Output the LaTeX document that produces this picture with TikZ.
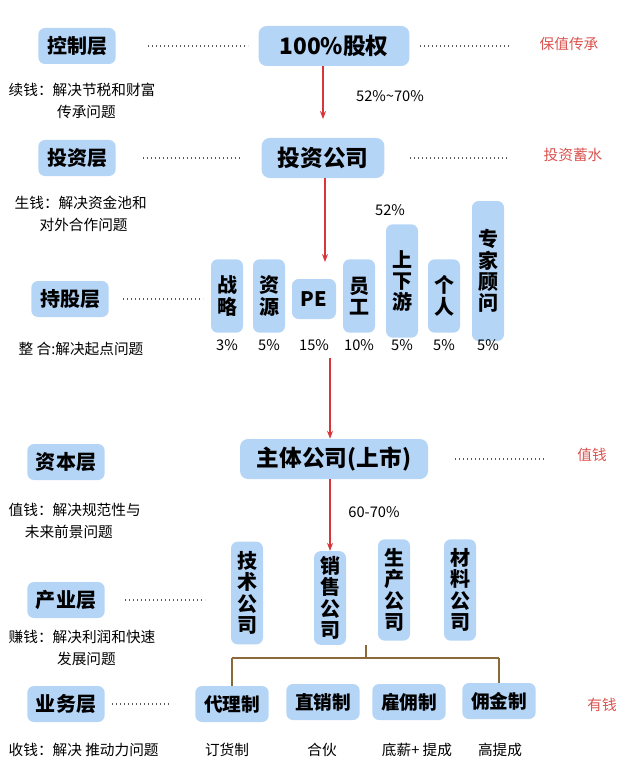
\documentclass[tikz,border=0pt]{standalone}
\usepackage{fontspec}
\setmainfont{Noto Sans CJK SC}
\usetikzlibrary{arrows.meta,positioning}
\definecolor{boxblue}{HTML}{B5D5F7}
\definecolor{redtxt}{HTML}{D9534F}
\definecolor{arrowred}{HTML}{D8363B}
\definecolor{brown}{HTML}{8A6A3A}

\begin{document}
\begin{tikzpicture}[x=0.75pt,y=-0.75pt,
            layer/.style={fill=boxblue,rounded corners=5pt,font=\bfseries\fontsize{15}{16}\selectfont,minimum width=58pt,minimum height=27pt},
            main/.style={fill=boxblue,rounded corners=6pt,font=\bfseries\fontsize{17}{18}\selectfont,minimum height=30pt,inner xsep=10pt},
            vbox/.style={fill=boxblue,rounded corners=5pt,font=\bfseries\fontsize{15}{16}\selectfont,align=center,text width=16pt,inner sep=4pt},
            biz/.style={fill=boxblue,rounded corners=5pt,font=\bfseries\fontsize{14}{15}\selectfont,minimum width=55pt,minimum height=27pt},
            note/.style={font=\fontsize{11}{16.5}\selectfont,align=left,anchor=west},
            pct/.style={font=\fontsize{11}{12}\selectfont},
            goal/.style={font=\fontsize{11}{12}\selectfont,text=redtxt},
            dots/.style={draw,dotted,line width=1pt,gray!70!black},
            down/.style={draw,-{Stealth[length=6pt]},thick,arrowred}
          ]
          \useasboundingbox (0,0) rectangle (636,781);

          % control layer
          \node[layer] (ctrl) at (77,46) {控制层};
          \node[main,minimum width=113pt] (equity) at (334,46) {100\%股权};
          \node[goal] (g1) at (569,44) {保值传承};
          \node[note] (n1) at (4,101) {续钱：解决节税和财富\\\hspace{3.3em}传承问题};

          % invest layer
          \node[layer] (inv) at (77,158) {投资层};
          \node[main,minimum width=92pt] (invco) at (323,158) {投资公司};
          \node[goal] (g2) at (573,155) {投资蓄水};
          \node[note] (n2) at (10,214) {生钱：解决资金池和\\\hspace{1.7em}对外合作问题};

          % holding layer
          \node[layer] (hold) at (70,299) {持股层};
          \node[vbox,minimum height=55pt] (s1) at (227,296) {战\\略};
          \node[vbox,minimum height=55pt] (s2) at (269,296) {资\\源};
          \node[vbox,text width=25pt,minimum height=30pt] (s3) at (314,299) {PE};
          \node[vbox,minimum height=55pt] (s4) at (359,296) {员\\工};
          \node[vbox,minimum height=85pt] (s5) at (402,281) {上\\下\\游};
          \node[vbox,minimum height=55pt] (s6) at (444,296) {个\\人};
          \node[vbox,minimum height=105pt] (s7) at (488,271) {专\\家\\顾\\问};
          \foreach \n/\p in {s1/3\%,s2/5\%,s3/15\%,s4/10\%,s5/5\%,s6/5\%,s7/5\%}
            \node[pct] at (\n |- 0,345) {\p};
          \node[note] (n3) at (14,349) {整 合:解决起点问题};
          \coordinate (hub) at (330,358);

          % capital layer
          \node[layer] (cap) at (66,462) {资本层};
          \node[main,minimum width=141pt] (listed) at (334,459) {主体公司(上市)};
          \node[goal] (g3) at (592,455) {值钱};
          \node[note] (n4) at (4,521) {值钱：解决规范性与\\\hspace{1.1em}未来前景问题};

          % industry layer
          \node[layer] (ind) at (66,600) {产业层};
          \node[vbox,minimum height=77pt] (c1) at (247,593) {技\\术\\公\\司};
          \node[vbox,minimum height=70pt] (c2) at (330,598) {销\\售\\公\\司};
          \node[vbox,minimum height=76pt] (c3) at (394,590) {生\\产\\公\\司};
          \node[vbox,minimum height=76pt] (c4) at (460,590) {材\\料\\公\\司};
          \node[note] (n5) at (4,648) {赚钱：解决利润和快速\\\hspace{3.3em}发展问题};

          % business layer
          \node[layer] (biz) at (66,704) {业务层};
          \node[biz] (b1) at (232,704) {代理制};
          \node[biz] (b2) at (323,702) {直销制};
          \node[biz] (b3) at (409,702) {雇佣制};
          \node[biz] (b4) at (499,701) {佣金制};
          \node[goal] (g4) at (602,705) {有钱};
          \node[note] (n6) at (4,750) {收钱：解决 推动力问题};
          \node[pct] at (227,750) {订货制};
          \node[pct] at (322,750) {合伙};
          \node[pct] at (417,750) {底薪+ 提成};
          \node[pct] at (500,750) {高提成};

          % dotted leaders
          \path[dots] (148,46) -- (248,46)  (420,46) -- (510,46)
            (143,158) -- (240,158)  (410,158) -- (508,158)
            (123,299) -- (203,299)
            (455,459) -- (545,459)
            (125,600) -- (205,600)
            (112,704) -- (170,704);

          % labels on arrows
          \node[pct] at (390,96) {52\%\textasciitilde70\%};
          \node[pct] at (390,210) {52\%};
          \node[pct] at (374,512) {60-70\%};

          % arrows
          \path[down,shorten >=14pt] (equity.south -| invco) -- (invco);
          \path[down] (invco.south -| 325,0) -- (325,262);
          \path[down] (hub) -- (listed.north -| hub);
          \path[down] (listed.south -| c2) -- (c2);

          % tree
          \coordinate (fork) at (366,658);
          \draw[brown,thick] (366,645) -- (fork)
            (b1.north |- fork) -- (b4.north |- fork)
            (b1.north |- fork) -- (b1.north) (b4.north |- fork) -- (b4.north);
      \end{tikzpicture}
\end{document}
